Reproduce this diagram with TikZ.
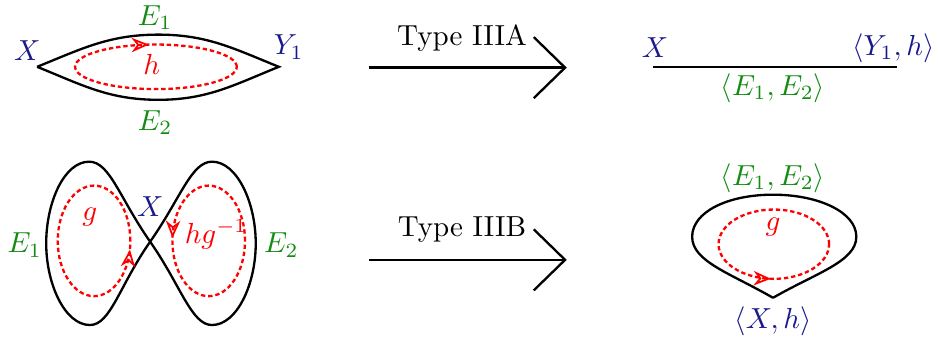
\documentclass[tikz,border=0pt]{standalone}
\usepackage{amsmath}
\usepackage{tikz}
\definecolor{darkblue}{RGB}{25,25,140}
\definecolor{darkgreen}{RGB}{20,140,20}
\usetikzlibrary{arrows.meta}
\usetikzlibrary{decorations.markings}

\begin{document}
\begin{tikzpicture}
        \tikzset{every node/.style={inner sep=1pt},
                vertlab/.style={text=darkblue},
                edgelab/.style={text=darkgreen},
                genlab/.style={text=red},
                cell/.style={draw=black, thick},
                gen/.style={draw=red, thick, dash pattern=on 1.5pt off 1pt},
                genmark/.style={postaction={decorate}, decoration={markings,
                    mark=at position #1 with {\arrow{Stealth[open, red, length=6pt, width=5pt, line width=0.6pt]}}}},
                genmarkrev/.style={postaction={decorate}, decoration={markings,
                    mark=at position #1 with {\arrowreversed{Stealth[open, red, length=6pt, width=5pt, line width=0.6pt]}}}},
                typearrow/.style={draw=black, thick, -{Straight Barb[length=0.38cm, width=0.74cm]}}}

        \useasboundingbox (0, 0) rectangle (11.37, 4.17);

        \coordinate (L1) at (0.45, 3.36);
        \coordinate (R1) at (3.38, 3.36);
        \coordinate (T1) at (1.92, 3.75);
        \coordinate (B1) at (1.92, 2.96);
        \draw[cell] (L1) to[out=22, in=180] (T1) to[out=0, in=158] (R1)
                    to[out=202, in=0] (B1) to[out=180, in=-22] (L1);
        \draw[gen, genmarkrev=0.27] (1.89, 3.36) ellipse (0.98 and 0.27);
        \node[vertlab] (x1) at (0.33, 3.56) {$X$};
        \node[vertlab] (y1) at (3.50, 3.60) {$Y_1$};
        \node[edgelab] (e1) at (1.88, 3.96) {$E_1$};
        \node[edgelab] (e2) at (1.88, 2.68) {$E_2$};
        \node[genlab] (h1) at (1.84, 3.39) {$h$};

        \coordinate (a1) at (4.47, 3.35);
        \coordinate (a2) at (6.87, 3.35);
        \draw[typearrow] (a1) -- (a2);
        \node (ta) at (5.60, 3.71) {Type IIIA};

        \coordinate (x2) at (7.92, 3.36);
        \coordinate (y2) at (10.87, 3.36);
        \draw[cell] (x2) -- (y2);
        \node[vertlab] (x2lab) at (7.94, 3.59) {$X$};
        \node[vertlab] (y2lab) at (10.83, 3.59) {$\langle Y_1, h\rangle$};
        \node[edgelab] (e12) at (9.37, 3.10) {$\langle E_1, E_2\rangle$};

        \coordinate (C) at (1.82, 1.24);
        \coordinate (LT) at (1.08, 2.21);
        \coordinate (LL) at (0.56, 1.22);
        \coordinate (LB) at (1.09, 0.23);
        \coordinate (RT) at (2.57, 2.21);
        \coordinate (RR) at (3.10, 1.22);
        \coordinate (RB) at (2.57, 0.23);
        \draw[cell] (C) .. controls +(125:0.65) and +(0.25, 0) .. (LT)
                    .. controls +(-0.3, 0) and +(0, 0.5) .. (LL)
                    .. controls +(0, -0.5) and +(-0.3, 0) .. (LB)
                    .. controls +(0.25, 0) and +(235:0.65) .. (C)
                    .. controls +(55:0.65) and +(-0.25, 0) .. (RT)
                    .. controls +(0.3, 0) and +(0, 0.5) .. (RR)
                    .. controls +(0, -0.5) and +(0.3, 0) .. (RB)
                    .. controls +(-0.25, 0) and +(-55:0.65) .. (C);
        \draw[gen, genmark=0.97] (1.14, 1.25) ellipse (0.44 and 0.67);
        \draw[gen, genmark=0.49] (2.53, 1.25) ellipse (0.44 and 0.67);
        \node[vertlab] (x3) at (1.82, 1.66) {$X$};
        \node[edgelab] (e3) at (0.30, 1.20) {$E_1$};
        \node[edgelab] (e4) at (3.41, 1.20) {$E_2$};
        \node[genlab] (g1) at (1.09, 1.54) {$g$};
        \node[genlab] (hg) at (2.62, 1.33) {$hg^{-1}$};

        \coordinate (b1) at (4.47, 1.02);
        \coordinate (b2) at (6.87, 1.02);
        \draw[typearrow] (b1) -- (b2);
        \node (tb) at (5.60, 1.39) {Type IIIB};

        \coordinate (D) at (9.37, 0.56);
        \coordinate (DL) at (8.39, 1.30);
        \coordinate (DT) at (9.37, 1.81);
        \coordinate (DR) at (10.38, 1.30);
        \draw[cell] (D) .. controls +(150:0.6) and +(0, -0.3) .. (DL)
                    .. controls +(0, 0.3) and +(-0.55, 0) .. (DT)
                    .. controls +(0.55, 0) and +(0, 0.3) .. (DR)
                    .. controls +(0, -0.3) and +(30:0.6) .. (D);
        \draw[gen, genmark=0.74] (9.38, 1.21) ellipse (0.67 and 0.42);
        \node[genlab] (g2) at (9.37, 1.42) {$g$};
        \node[edgelab] (e5) at (9.37, 2.01) {$\langle E_1, E_2\rangle$};
        \node[vertlab] (x4) at (9.37, 0.27) {$\langle X, h\rangle$};

\end{tikzpicture}
\end{document}
